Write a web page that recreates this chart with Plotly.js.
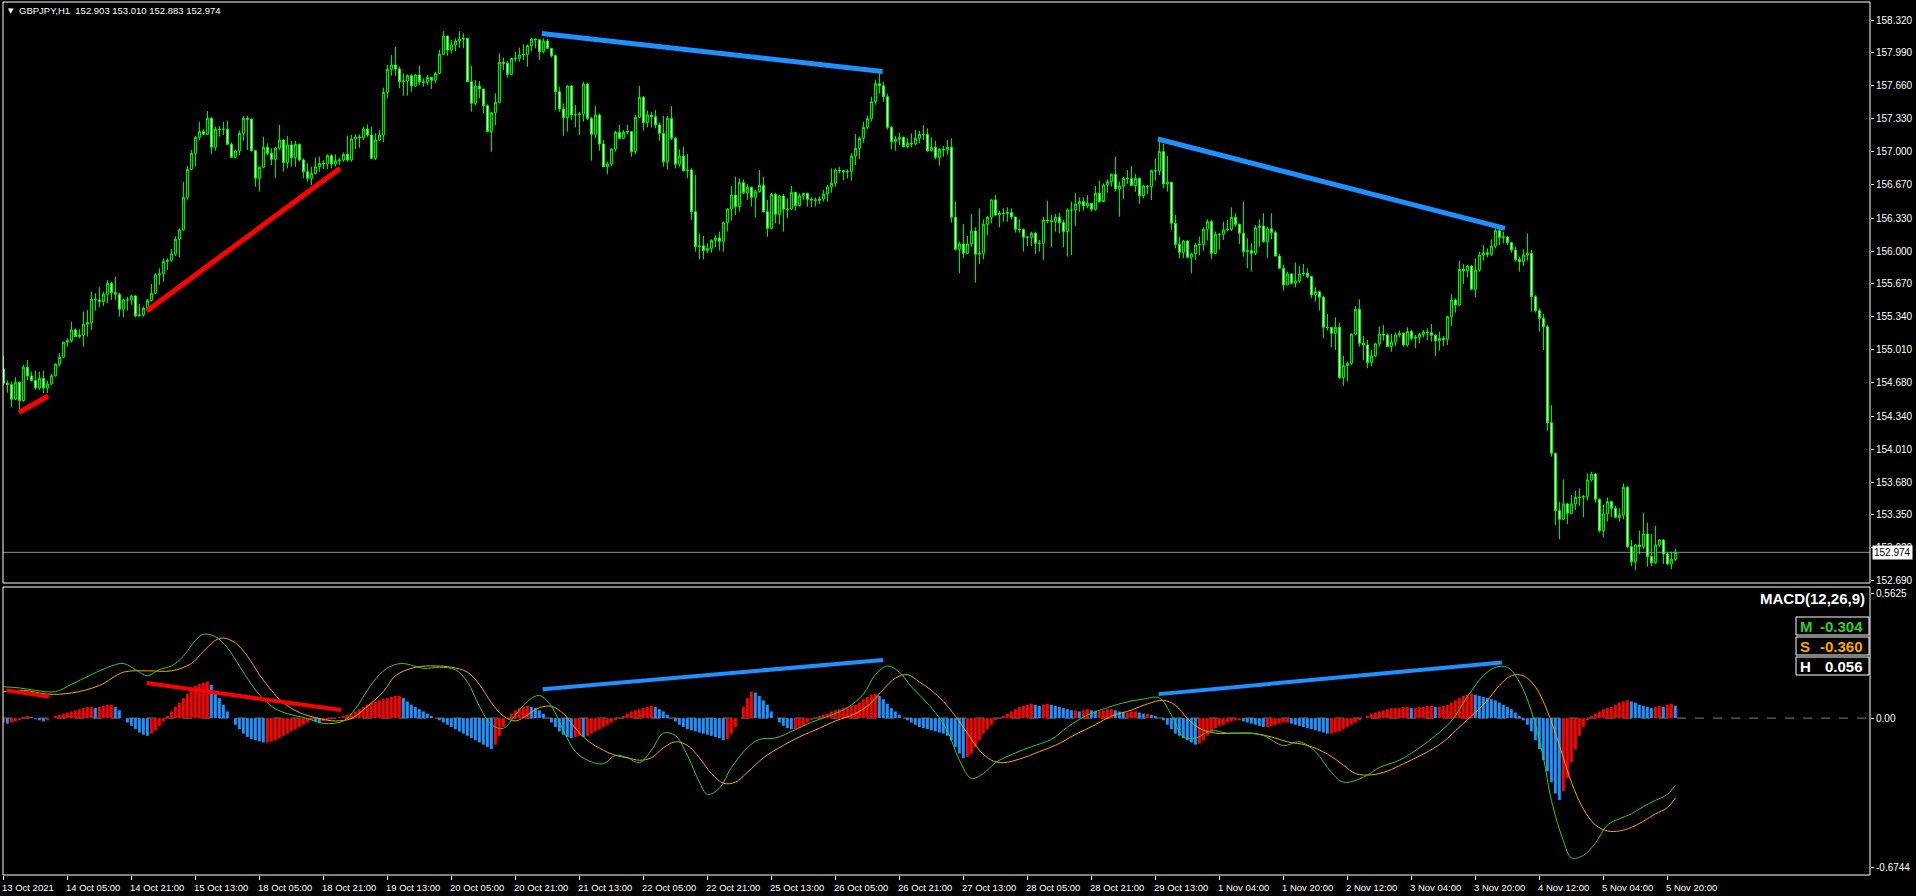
<!DOCTYPE html>
<html><head><meta charset="utf-8">
<script src="https://cdn.plot.ly/plotly-3.0.1.min.js"></script>
<style>html,body{margin:0;padding:0;background:#000;overflow:hidden}#chart{width:1916px;height:896px}</style>
</head><body><div id="chart"></div>
<script>
const titleText = "GBPJPY,H1\u00a0\u00a0152.903 153.010 152.883 152.974";
const lastPrice = 152.974;

const openP = [154.813,154.672,154.660,154.511,154.682,154.498,154.833,154.746,154.699,154.625,
154.722,154.625,154.665,154.746,154.863,154.933,155.084,155.100,155.208,155.141,
155.154,155.264,155.281,155.515,155.509,155.492,155.566,155.676,155.582,155.566,
155.415,155.509,155.509,155.549,155.351,155.358,155.425,155.502,155.576,155.760,
155.770,155.894,155.907,155.971,156.118,156.212,156.540,156.821,156.981,157.142,
157.199,157.172,157.333,157.042,157.222,157.222,157.222,157.072,156.941,157.005,
157.182,157.333,157.323,157.008,156.730,156.841,157.042,156.981,156.921,157.032,
157.115,156.888,157.065,156.938,157.071,156.914,156.797,156.730,156.780,156.847,
156.881,156.874,156.958,156.874,156.907,156.914,156.971,156.914,157.125,157.145,
157.138,157.225,157.165,156.931,157.115,157.165,157.593,157.824,157.868,157.828,
157.701,157.707,157.761,157.657,157.768,157.701,157.694,157.744,157.714,157.784,
157.975,158.159,158.019,158.069,158.109,158.129,158.136,157.701,157.483,157.657,
157.627,157.460,157.199,157.389,157.493,157.895,157.885,157.774,157.935,157.935,
157.968,157.975,158.062,158.129,158.122,158.002,158.109,158.035,157.962,157.600,
157.426,157.339,157.657,157.366,157.369,157.376,157.677,157.332,157.172,157.366,
157.075,156.847,156.874,157.025,157.192,157.132,157.192,157.199,156.998,157.343,
157.543,157.289,157.366,157.349,157.266,157.182,156.897,157.332,157.132,156.871,
156.954,156.807,156.814,156.395,156.044,156.051,156.004,156.027,156.107,156.131,
156.097,156.285,156.422,156.563,156.446,156.686,156.586,156.640,156.539,156.596,
156.660,156.395,156.228,156.569,156.369,156.553,156.419,156.422,156.589,156.456,
156.553,156.579,156.519,156.513,156.509,156.523,156.573,156.643,156.680,156.814,
156.807,156.794,156.797,156.955,157.031,157.132,157.242,157.330,157.500,157.680,
157.660,157.550,157.242,157.098,157.122,157.142,157.048,157.082,157.075,157.132,
157.172,157.172,157.008,157.042,156.941,157.021,157.015,157.042,156.339,156.017,
156.071,155.977,156.071,156.201,155.967,155.977,156.268,156.339,156.513,156.362,
156.379,156.376,156.386,156.342,156.218,156.215,156.138,156.138,156.178,156.078,
156.078,156.312,156.305,156.295,156.339,156.285,156.195,156.412,156.412,156.473,
156.496,156.453,156.479,156.419,156.580,156.496,156.663,156.697,156.770,156.623,
156.653,156.730,156.727,156.657,156.730,156.556,156.653,156.647,156.807,156.804,
156.998,156.673,156.690,156.278,156.068,155.987,156.101,155.937,155.971,156.061,
156.068,156.218,156.295,155.977,156.168,156.168,156.211,156.218,156.339,156.268,
156.178,155.994,156.004,155.977,156.235,156.252,156.094,156.222,156.185,155.950,
155.827,155.659,155.770,155.676,155.699,155.770,155.776,155.743,155.559,155.592,
155.535,155.234,155.231,155.174,155.234,154.729,154.849,154.873,155.164,155.415,
155.073,155.057,154.879,154.946,155.067,155.167,155.157,155.040,155.084,155.157,
155.174,155.057,155.191,155.123,155.133,155.163,155.187,155.180,155.153,155.100,
155.123,155.113,155.341,155.508,155.458,155.816,155.802,155.849,155.615,155.809,
155.960,155.983,155.966,156.050,156.204,156.137,156.141,156.084,156.010,155.916,
155.893,155.960,155.977,155.541,155.401,155.324,155.240,154.276,153.968,153.393,
153.306,153.460,153.366,153.460,153.526,153.526,153.533,153.700,153.761,153.506,
153.192,153.359,153.483,153.416,153.326,153.349,153.627,153.031,152.880,153.048,
153.031,153.158,152.931,152.870,153.048,153.098,152.957,152.857,152.903];

const highP = [154.947,154.699,154.689,154.732,154.689,154.856,154.906,154.789,154.799,154.789,
154.799,154.699,154.766,154.873,154.973,155.090,155.124,155.291,155.224,155.214,
155.392,155.408,155.592,155.576,155.636,155.592,155.710,155.693,155.743,155.582,
155.522,155.542,155.559,155.559,155.469,155.442,155.519,155.669,155.777,155.827,
155.927,155.927,156.021,156.145,156.228,156.697,156.854,157.015,157.156,157.299,
157.222,157.407,157.343,157.249,157.256,157.299,157.310,157.089,157.015,157.209,
157.356,157.356,157.333,157.015,156.848,157.149,157.082,157.032,157.048,157.266,
157.122,157.156,157.105,157.105,157.081,156.931,156.881,156.847,156.938,156.948,
156.914,156.971,156.971,156.971,156.938,156.991,157.158,157.165,157.172,157.172,
157.249,157.272,157.249,157.182,157.215,157.640,157.868,157.968,158.052,157.851,
157.784,157.774,157.774,157.774,157.861,157.734,157.768,157.734,157.801,158.019,
158.209,158.163,158.119,158.136,158.209,158.186,158.142,157.861,157.717,157.707,
157.627,157.473,157.399,157.583,157.985,157.942,157.908,157.942,158.002,158.042,
158.075,158.075,158.142,158.136,158.122,158.136,158.129,158.042,157.975,157.650,
157.483,157.667,157.667,157.466,157.399,157.701,157.691,157.349,157.456,157.383,
157.115,156.897,157.031,157.209,157.266,157.215,157.266,157.199,157.366,157.657,
157.557,157.409,157.399,157.416,157.289,157.356,157.356,157.456,157.148,157.021,
157.048,156.974,156.830,156.763,156.178,156.151,156.077,156.118,156.158,156.195,
156.295,156.429,156.653,156.747,156.730,156.720,156.673,156.646,156.613,156.814,
156.747,156.513,156.586,156.586,156.563,156.573,156.529,156.653,156.596,156.579,
156.586,156.586,156.539,156.539,156.546,156.613,156.663,156.830,156.830,156.847,
156.807,156.820,156.981,157.175,157.149,157.299,157.360,157.550,157.720,157.808,
157.700,157.580,157.256,157.155,157.189,157.149,157.132,157.182,157.216,157.209,
157.266,157.232,157.142,157.108,157.031,157.055,157.115,157.132,156.496,156.094,
156.272,156.151,156.372,156.238,156.429,156.319,156.352,156.519,156.563,156.406,
156.429,156.439,156.429,156.345,156.319,156.228,156.151,156.195,156.195,156.111,
156.345,156.506,156.362,156.372,156.386,156.312,156.429,156.496,156.580,156.539,
156.539,156.563,156.479,156.653,156.707,156.680,156.720,156.780,156.948,156.697,
156.747,156.814,156.854,156.774,156.740,156.663,156.663,156.814,156.931,157.109,
157.075,156.955,156.697,156.362,156.145,156.111,156.111,155.984,156.078,156.145,
156.238,156.319,156.312,156.195,156.178,156.295,156.312,156.439,156.379,156.278,
156.496,156.128,156.078,156.262,156.319,156.379,156.245,156.379,156.205,155.971,
155.860,155.793,155.776,155.884,155.850,155.870,155.827,155.750,155.636,155.602,
155.549,155.368,155.241,155.335,155.281,154.946,154.889,155.174,155.448,155.515,
155.147,155.107,155.007,155.080,155.241,155.258,155.174,155.167,155.181,155.201,
155.181,155.234,155.207,155.157,155.180,155.207,155.223,155.267,155.167,155.190,
155.147,155.347,155.568,155.525,155.903,155.869,155.859,155.859,155.926,155.993,
156.060,156.027,156.117,156.228,156.228,156.194,156.151,156.094,156.043,155.943,
156.017,156.177,156.010,155.558,155.424,155.367,155.257,154.454,153.975,153.483,
153.707,153.473,153.550,153.593,153.617,153.550,153.767,153.784,153.767,153.516,
153.450,153.526,153.493,153.440,153.416,153.667,153.640,153.098,153.058,153.192,
153.373,153.272,153.158,153.239,153.105,153.105,152.981,152.981,153.010];

const lowP = [154.655,154.578,154.431,154.505,154.404,154.488,154.706,154.689,154.605,154.605,
154.572,154.572,154.655,154.739,154.839,154.930,155.040,155.080,155.134,155.124,
155.040,155.141,155.208,155.402,155.435,155.449,155.475,155.509,155.509,155.341,
155.335,155.402,155.459,155.335,155.341,155.341,155.402,155.492,155.569,155.660,
155.693,155.810,155.894,155.951,155.937,156.205,156.513,156.814,156.848,157.115,
157.166,157.166,156.971,157.008,157.149,157.166,157.065,156.941,156.931,156.965,
157.109,157.015,156.998,156.647,156.597,156.831,156.965,156.864,156.730,157.015,
156.797,156.831,156.847,156.847,156.897,156.730,156.696,156.663,156.770,156.797,
156.824,156.824,156.830,156.847,156.864,156.897,156.897,156.897,157.025,157.038,
157.115,157.148,156.924,156.914,157.105,157.091,157.533,157.761,157.761,157.634,
157.560,157.560,157.600,157.650,157.667,157.650,157.667,157.627,157.684,157.774,
157.968,157.962,157.985,158.009,158.042,158.035,157.694,157.399,157.466,157.533,
157.383,157.192,156.998,157.265,157.483,157.818,157.741,157.768,157.901,157.901,
157.918,157.851,158.009,158.035,157.918,157.985,158.029,157.942,157.416,157.399,
157.158,157.199,157.316,157.242,157.165,157.299,157.316,156.907,157.132,157.008,
156.840,156.770,156.854,156.998,157.125,157.125,157.175,156.947,156.974,157.332,
157.209,157.242,157.242,157.232,157.108,156.847,156.820,157.115,156.830,156.847,
156.797,156.730,156.312,155.994,155.917,155.917,155.977,155.984,156.037,156.004,
155.994,156.195,156.305,156.362,156.395,156.573,156.513,156.446,156.338,156.586,
156.385,156.144,156.218,156.278,156.268,156.195,156.328,156.412,156.405,156.446,
156.513,156.446,156.439,156.446,156.472,156.496,156.496,156.586,156.646,156.780,
156.713,156.730,156.707,156.864,156.924,157.088,157.222,157.300,157.470,157.580,
157.500,157.220,157.021,157.008,157.065,157.042,157.031,157.042,157.065,157.082,
157.115,156.998,156.998,156.921,156.857,156.948,156.965,156.285,156.004,155.776,
155.927,155.971,156.044,155.683,155.870,155.917,156.161,156.278,156.352,156.238,
156.295,156.295,156.319,156.185,156.185,155.994,156.051,156.051,155.971,155.994,
155.910,156.278,156.037,156.195,156.178,156.037,155.944,155.960,156.252,156.396,
156.406,156.429,156.396,156.406,156.486,156.513,156.586,156.647,156.596,156.345,
156.519,156.673,156.657,156.596,156.473,156.529,156.573,156.513,156.707,156.764,
156.630,156.596,156.211,156.027,155.927,155.927,155.927,155.776,155.910,155.960,
156.004,156.105,155.917,155.971,156.017,156.111,156.195,156.201,156.245,156.071,
155.944,155.827,155.793,155.960,156.044,156.084,155.927,156.118,155.944,155.817,
155.602,155.659,155.669,155.636,155.676,155.750,155.726,155.525,155.492,155.402,
155.124,155.201,155.033,155.007,154.712,154.645,154.689,154.856,155.164,155.040,
154.906,154.823,154.846,154.933,155.040,155.100,155.033,154.990,155.047,155.134,
155.040,155.040,155.100,155.023,155.073,155.133,155.106,155.090,154.946,155.000,
155.046,155.056,155.247,155.381,155.448,155.669,155.736,155.608,155.535,155.792,
155.903,155.936,155.950,156.027,156.060,156.077,156.060,155.983,155.893,155.792,
155.849,155.903,155.391,155.381,155.190,155.006,154.196,153.935,153.249,153.105,
153.299,153.259,153.359,153.399,153.440,153.326,153.493,153.684,153.473,153.172,
153.125,153.282,153.326,153.316,153.282,153.306,153.014,152.837,152.797,152.957,
153.004,152.830,152.837,152.857,153.031,152.857,152.847,152.804,152.883];

const closeP = [154.672,154.660,154.511,154.682,154.498,154.833,154.746,154.699,154.625,154.722,
154.625,154.665,154.746,154.863,154.933,155.084,155.100,155.208,155.141,155.154,
155.264,155.281,155.515,155.509,155.492,155.566,155.676,155.582,155.566,155.415,
155.509,155.509,155.549,155.351,155.358,155.425,155.502,155.576,155.760,155.770,
155.894,155.907,155.971,156.118,156.212,156.540,156.821,156.981,157.142,157.199,
157.172,157.333,157.042,157.222,157.222,157.222,157.072,156.941,157.005,157.182,
157.333,157.323,157.008,156.730,156.841,157.042,156.981,156.921,157.032,157.115,
156.888,157.065,156.938,157.071,156.914,156.797,156.730,156.780,156.847,156.881,
156.874,156.958,156.874,156.907,156.914,156.971,156.914,157.125,157.145,157.138,
157.225,157.165,156.931,157.115,157.165,157.593,157.824,157.868,157.828,157.701,
157.707,157.761,157.657,157.768,157.701,157.694,157.744,157.714,157.784,157.975,
158.159,158.019,158.069,158.109,158.129,158.136,157.701,157.483,157.657,157.627,
157.460,157.199,157.389,157.493,157.895,157.885,157.774,157.935,157.935,157.968,
157.975,158.062,158.129,158.122,158.002,158.109,158.035,157.962,157.600,157.426,
157.339,157.657,157.366,157.369,157.376,157.677,157.332,157.172,157.366,157.075,
156.847,156.874,157.025,157.192,157.132,157.192,157.199,156.998,157.343,157.543,
157.289,157.366,157.349,157.266,157.182,156.897,157.332,157.132,156.871,156.954,
156.807,156.814,156.395,156.044,156.051,156.004,156.027,156.107,156.131,156.097,
156.285,156.422,156.563,156.446,156.686,156.586,156.640,156.539,156.596,156.660,
156.395,156.228,156.569,156.369,156.553,156.419,156.422,156.589,156.456,156.553,
156.579,156.519,156.513,156.509,156.523,156.573,156.643,156.680,156.814,156.807,
156.794,156.797,156.955,157.031,157.132,157.242,157.330,157.500,157.680,157.660,
157.550,157.242,157.098,157.122,157.142,157.048,157.082,157.075,157.132,157.172,
157.172,157.008,157.042,156.941,157.021,157.015,157.042,156.339,156.017,156.071,
155.977,156.071,156.201,155.967,155.977,156.268,156.339,156.513,156.362,156.379,
156.376,156.386,156.342,156.218,156.215,156.138,156.138,156.178,156.078,156.078,
156.312,156.305,156.295,156.339,156.285,156.195,156.412,156.412,156.473,156.496,
156.453,156.479,156.419,156.580,156.496,156.663,156.697,156.770,156.623,156.653,
156.730,156.727,156.657,156.730,156.556,156.653,156.647,156.807,156.804,156.998,
156.673,156.690,156.278,156.068,155.987,156.101,155.937,155.971,156.061,156.068,
156.218,156.295,155.977,156.168,156.168,156.211,156.218,156.339,156.268,156.178,
155.994,156.004,155.977,156.235,156.252,156.094,156.222,156.185,155.950,155.827,
155.659,155.770,155.676,155.699,155.770,155.776,155.743,155.559,155.592,155.535,
155.234,155.231,155.174,155.234,154.729,154.849,154.873,155.164,155.415,155.073,
155.057,154.879,154.946,155.067,155.167,155.157,155.040,155.084,155.157,155.174,
155.057,155.191,155.123,155.133,155.163,155.187,155.180,155.153,155.100,155.123,
155.113,155.341,155.508,155.458,155.816,155.802,155.849,155.615,155.809,155.960,
155.983,155.966,156.050,156.204,156.137,156.141,156.084,156.010,155.916,155.893,
155.960,155.977,155.541,155.401,155.324,155.240,154.276,153.968,153.393,153.306,
153.460,153.366,153.460,153.526,153.526,153.533,153.700,153.761,153.506,153.192,
153.359,153.483,153.416,153.326,153.349,153.627,153.031,152.880,153.048,153.031,
153.158,152.931,152.870,153.048,153.098,152.957,152.857,152.904,152.974];

const histVals = [
-0.02,-0.025,-0.02,-0.015,-0.01,0.005,0.01,0.005,-0.005,-0.01,-0.015,-0.01,0.0,0.01,
0.015,0.02,0.025,0.03,0.035,0.04,0.045,0.05,0.05,0.045,0.05,0.055,0.06,0.06,0.05,0.035,
0.0,-0.02,-0.035,-0.05,-0.065,-0.075,-0.08,-0.07,-0.055,-0.035,-0.015,
0.01,0.03,0.05,0.07,0.09,0.11,0.13,0.145,0.155,0.16,0.165,0.15,0.12,
0.09,0.06,0.03,0.0,-0.03,-0.05,
-0.07,-0.085,-0.095,-0.1,-0.105,-0.11,-0.11,-0.105,-0.1,-0.09,-0.08,-0.07,-0.06,-0.05,-0.04,-0.03,-0.02,
-0.01,-0.015,-0.02,-0.015,-0.01,-0.005,0.0,0.005,0.01,0.015,0.02,0.03,
0.04,0.05,0.06,0.07,0.075,0.08,0.085,0.09,0.095,0.1,0.1,0.09,
0.075,0.06,0.05,0.04,0.03,0.02,0.01,0.0,-0.01,-0.02,-0.03,-0.04,-0.05,-0.06,-0.07,
-0.08,-0.09,-0.1,-0.11,-0.12,-0.13,-0.14,-0.12,
-0.08,-0.04,0.0,0.02,0.035,0.045,0.05,0.055,0.05,0.045,0.035,
0.02,0.0,-0.02,-0.04,-0.06,-0.075,-0.085,-0.09,-0.085,
-0.08,-0.085,-0.08,-0.07,-0.06,-0.05,-0.04,-0.03,-0.02,
-0.01,0.0,0.01,0.02,0.03,0.035,0.04,0.045,0.05,0.055,0.05,0.04,0.03,0.015,
0.0,-0.015,-0.03,-0.04,-0.05,-0.055,-0.06,-0.065,-0.07,-0.075,-0.08,-0.085,-0.09,-0.1,-0.095,-0.07,-0.04,
0.0,0.05,0.09,0.12,0.115,0.1,0.08,0.06,
0.03,0.0,-0.02,-0.035,-0.045,-0.05,-0.05,-0.045,-0.035,-0.02,
-0.01,0.0,0.01,0.015,0.02,0.03,0.035,0.04,0.045,0.05,0.055,0.06,
0.07,0.085,0.095,0.105,0.11,0.1,0.085,0.065,
0.045,0.03,0.015,0.0,-0.01,-0.02,-0.03,-0.04,-0.045,-0.05,-0.055,-0.06,-0.065,-0.07,-0.08,-0.1,-0.13,-0.16,
-0.18,-0.175,-0.16,-0.13,-0.1,
-0.07,-0.05,-0.03,-0.01,0.0,0.01,0.02,0.03,0.04,
0.05,0.055,0.06,0.065,0.06,0.055,0.06,0.065,0.06,0.055,0.05,0.045,0.04,0.035,0.035,
0.03,0.035,0.04,0.035,0.03,0.03,0.035,0.04,0.04,0.035,0.03,0.025,0.025,0.03,0.03,0.025,0.02,0.02,0.015,0.01,
0.0,-0.01,-0.03,-0.05,-0.07,-0.08,-0.09,-0.1,-0.11,-0.12,-0.115,-0.1,-0.08,-0.06,
-0.045,-0.035,-0.03,-0.02,-0.015,-0.01,-0.01,-0.015,-0.02,-0.025,-0.03,-0.035,-0.04,-0.04,-0.035,-0.03,-0.025,-0.02,-0.02,-0.025,-0.03,
-0.035,-0.04,-0.045,-0.05,-0.055,-0.06,-0.065,-0.07,-0.07,-0.065,-0.06,-0.05,-0.04,-0.03,-0.02,
-0.01,0.0,0.01,0.02,0.025,0.03,0.035,0.04,0.045,0.045,0.045,0.05,0.05,0.045,0.045,0.05,0.05,0.055,0.055,0.05,0.05,0.055,
0.06,0.07,0.08,0.09,0.1,0.105,0.11,0.105,0.1,
0.095,0.09,0.085,0.08,0.07,0.06,0.05,0.04,0.025,0.01,-0.01,-0.03,
-0.06,-0.1,-0.14,-0.19,-0.24,-0.29,-0.34,-0.37,
-0.33,-0.27,-0.2,-0.14,-0.08,-0.04,-0.01,
0.01,0.02,0.03,0.04,0.045,0.05,0.06,0.07,0.075,0.08,0.075,0.07,0.06,0.055,0.05,0.045,0.05,0.055,0.05,0.06,0.065,0.056];

const macdLineIdx = [0,4,8,13,17,22,27,30,33,36,39,42,45,48,50,53,56,59,62,65,68,71,76,80,85,88,91,94,97,100,105,109,113,116,119,122,125,128,131,134,137,140,143,146,150,153,156,159,162,165,168,171,174,176,179,182,186,189,193,198,202,207,211,215,218,221,224,227,230,233,236,239,242,245,248,253,257,262,266,271,276,280,285,289,292,295,298,302,306,311,315,320,324,328,332,335,340,344,349,354,358,362,366,370,373,376,379,382,385,387,390,392,395,398,401,404,407,410,413,416,418];
const macdLine = [0.141,0.136,0.125,0.119,0.152,0.196,0.235,0.246,0.219,0.191,0.219,0.235,0.279,0.350,0.378,0.367,0.317,0.235,0.152,0.086,0.042,0.020,-0.002,-0.024,-0.013,0.042,0.125,0.196,0.235,0.246,0.224,0.229,0.218,0.163,0.053,-0.030,-0.046,0.014,0.075,0.102,0.053,-0.057,-0.151,-0.190,-0.206,-0.168,-0.179,-0.201,-0.145,-0.068,-0.079,-0.168,-0.289,-0.344,-0.316,-0.223,-0.134,-0.096,-0.090,-0.052,-0.019,0.014,0.047,0.108,0.196,0.235,0.207,0.141,0.086,0.025,-0.057,-0.190,-0.272,-0.250,-0.201,-0.157,-0.129,-0.096,-0.041,0.014,0.047,0.069,0.086,0.091,0.014,-0.085,-0.090,-0.057,-0.068,-0.068,-0.079,-0.124,-0.107,-0.151,-0.245,-0.289,-0.267,-0.223,-0.190,-0.134,-0.079,-0.013,0.097,0.191,0.229,0.229,0.163,0.031,-0.179,-0.371,-0.553,-0.630,-0.619,-0.564,-0.482,-0.454,-0.432,-0.399,-0.371,-0.344,-0.304];
const signalIdx = [0,5,11,17,24,30,36,42,47,50,53,55,58,61,64,67,70,74,79,83,87,91,95,98,103,108,112,116,119,122,125,128,131,134,137,140,143,146,150,153,156,159,162,165,168,171,174,177,180,183,186,190,195,199,204,208,213,217,220,223,226,229,232,235,238,241,244,247,250,254,259,263,268,273,277,282,286,290,293,296,299,303,308,312,317,321,326,331,335,338,342,346,350,355,360,363,367,371,374,377,380,383,386,389,392,395,398,401,404,407,410,413,416,418];
const signalLine = [0.119,0.125,0.108,0.113,0.147,0.207,0.213,0.213,0.246,0.301,0.350,0.361,0.339,0.279,0.196,0.125,0.069,0.025,-0.002,-0.013,-0.002,0.053,0.119,0.191,0.229,0.235,0.229,0.207,0.152,0.069,0.009,-0.013,0.014,0.047,0.053,0.020,-0.046,-0.101,-0.145,-0.168,-0.179,-0.190,-0.179,-0.134,-0.107,-0.123,-0.179,-0.250,-0.294,-0.289,-0.245,-0.179,-0.123,-0.085,-0.046,-0.013,0.020,0.069,0.130,0.180,0.196,0.163,0.125,0.075,0.009,-0.068,-0.145,-0.190,-0.201,-0.185,-0.151,-0.123,-0.074,-0.030,0.009,0.036,0.064,0.080,0.058,-0.002,-0.046,-0.068,-0.068,-0.068,-0.085,-0.107,-0.123,-0.162,-0.212,-0.250,-0.256,-0.239,-0.206,-0.162,-0.107,-0.057,0.009,0.080,0.147,0.191,0.191,0.141,0.031,-0.123,-0.289,-0.410,-0.482,-0.509,-0.509,-0.493,-0.465,-0.432,-0.404,-0.360];

const tickIdx = [0,16,32,48,64,80,96,112,128,144,160,176,192,208,224,240,256,272,288,304,320,336,352,368,384,400,416];
const tickText = ["13 Oct 2021","14 Oct 05:00","14 Oct 21:00","15 Oct 13:00","18 Oct 05:00","18 Oct 21:00","19 Oct 13:00","20 Oct 05:00","20 Oct 21:00","21 Oct 13:00","22 Oct 05:00","22 Oct 21:00","25 Oct 13:00","26 Oct 05:00","26 Oct 21:00","27 Oct 13:00","28 Oct 05:00","28 Oct 21:00","29 Oct 13:00","1 Nov 04:00","1 Nov 20:00","2 Nov 12:00","3 Nov 04:00","3 Nov 20:00","4 Nov 12:00","5 Nov 04:00","5 Nov 20:00"];
const priceTicks = [158.320,157.990,157.660,157.330,157.000,156.670,156.330,156.000,155.670,155.340,155.010,154.680,154.340,154.010,153.680,153.350,153.020,152.690];
const macdTicks = [0.5625,0,-0.6744];
const macdTickText = ["0.5625","0.00","-0.6744"];

// trend lines: [startIndex, startValue, endIndex, endValue]
const priceRedLines = [[3.9,154.380,11.2,154.544],[35.8,155.398,84.15,156.831]];
const priceBlueLines = [[134.6,158.184,219.8,157.803],[288.6,157.125,375.4,156.228]];
const macdRedLines = [[0.7,0.125,11.4,0.097],[35.8,0.158,84.4,0.036]];
const macdBlueLines = [[134.8,0.130,219.9,0.262],[288.8,0.108,374.6,0.251]];

const macdLabel = "MACD(12,26,9)";
const macdBoxes = [["M","-0.304","#32CD32"],["S","-0.360","#FFA500"],["H","0.056","#FFFFFF"]];

// ---------- drawing ----------
const W=1916,H=896,ML=3,MR=46,MT=2,MB=21;
const PW=W-ML-MR, PH=H-MT-MB;
const px=x=>(x-ML)/PW, py=y=>(H-MB-y)/PH;
const idx = closeP.map((_,i)=>i);
const histColors = histVals.map((v,i)=> (i===0 || v>=histVals[i-1]) ? '#FF0000' : '#1E90FF');
const FONT = 'Liberation Sans, Arial, sans-serif';

const traces = [
 {type:'candlestick', x:idx, open:openP, high:highP, low:lowP, close:closeP, xaxis:'x', yaxis:'y',
  increasing:{line:{color:'#00FF00',width:1}, fillcolor:'#000000'},
  decreasing:{line:{color:'#00FF00',width:1}, fillcolor:'#FFFFFF'},
  whiskerwidth:0, hoverinfo:'skip'},
 {type:'bar', x:idx, y:histVals, width:0.72, marker:{color:histColors, line:{width:0}}, xaxis:'x', yaxis:'y2', hoverinfo:'skip'},
 {type:'scatter', mode:'lines', x:signalIdx, y:signalLine, line:{color:'#FFA500', width:1, shape:'spline', smoothing:1}, xaxis:'x', yaxis:'y2', hoverinfo:'skip'},
 {type:'scatter', mode:'lines', x:macdLineIdx, y:macdLine, line:{color:'#32CD32', width:1, shape:'spline', smoothing:1}, xaxis:'x', yaxis:'y2', hoverinfo:'skip'}
];

const shapes = [];
const pDom=[py(583),1], mDom=[0,py(587)];
shapes.push({type:'rect', xref:'paper', yref:'paper', x0:0, x1:1, y0:pDom[0], y1:1, line:{color:'#FFFFFF', width:1}, layer:'above'});
shapes.push({type:'rect', xref:'paper', yref:'paper', x0:0, x1:1, y0:0, y1:mDom[1], line:{color:'#FFFFFF', width:1}, layer:'above'});
shapes.push({type:'line', xref:'paper', yref:'y2', x0:0, x1:1, y0:0, y1:0, line:{color:'#7F7F7F', width:1, dash:'dash'}, layer:'below'});
shapes.push({type:'line', xref:'paper', yref:'y', x0:0, x1:1, y0:lastPrice, y1:lastPrice, line:{color:'#8A9099', width:1}, layer:'below'});
priceRedLines.forEach(l=>shapes.push({type:'line', xref:'x', yref:'y', x0:l[0], y0:l[1], x1:l[2], y1:l[3], line:{color:'#FF0000', width:5}}));
priceBlueLines.forEach(l=>shapes.push({type:'line', xref:'x', yref:'y', x0:l[0], y0:l[1], x1:l[2], y1:l[3], line:{color:'#1E90FF', width:5}}));
macdRedLines.forEach(l=>shapes.push({type:'line', xref:'x', yref:'y2', x0:l[0], y0:l[1], x1:l[2], y1:l[3], line:{color:'#FF0000', width:4}}));
macdBlueLines.forEach(l=>shapes.push({type:'line', xref:'x', yref:'y2', x0:l[0], y0:l[1], x1:l[2], y1:l[3], line:{color:'#1E90FF', width:4}}));
macdBoxes.forEach((b,k)=>{
  const top=617+k*20;
  shapes.push({type:'rect', xref:'paper', yref:'paper', x0:px(1796), x1:px(1869), y0:py(top+18), y1:py(top), line:{color:'#FFFFFF', width:1}, fillcolor:'#000000', layer:'above'});
});

const ann = [];
ann.push({xref:'paper', yref:'paper', x:px(6), y:py(11), xanchor:'left', yanchor:'middle', text:'\u25BC', showarrow:false, font:{family:'DejaVu Sans', size:7, color:'#FFFFFF'}});
ann.push({xref:'paper', yref:'paper', x:px(17), y:py(11), xanchor:'left', yanchor:'middle', text:titleText, showarrow:false, font:{family:FONT, size:9.5, color:'#FFFFFF'}});
tickIdx.forEach((t,k)=>ann.push({xref:'x', yref:'paper', x:t, y:py(887), xanchor:'left', yanchor:'middle', xshift:-3, text:tickText[k], showarrow:false, font:{family:FONT, size:9.5, color:'#FFFFFF'}}));
ann.push({xref:'paper', yref:'y', x:1, y:lastPrice, xanchor:'left', yanchor:'middle', xshift:2, text:'152.974', showarrow:false, bgcolor:'#FFFFFF', borderpad:1, font:{family:FONT, size:10, color:'#000000'}});
ann.push({xref:'paper', yref:'paper', x:px(1867), y:py(598), xanchor:'right', yanchor:'middle', text:'<b>'+macdLabel+'</b>', showarrow:false, font:{family:FONT, size:15, color:'#FFFFFF'}});
macdBoxes.forEach((b,k)=>{
  const cy=617+k*20+9.5;
  ann.push({xref:'paper', yref:'paper', x:px(1798), y:py(cy), xanchor:'left', yanchor:'middle', text:'<b>'+b[0]+'</b>', showarrow:false, font:{family:FONT, size:15, color:b[2]}});
  ann.push({xref:'paper', yref:'paper', x:px(1865), y:py(cy), xanchor:'right', yanchor:'middle', text:'<b>'+b[1]+'</b>', showarrow:false, font:{family:FONT, size:15, color:b[2]}});
});

const layout = {
  width:W, height:H, paper_bgcolor:'#000000', plot_bgcolor:'#000000',
  margin:{l:ML, r:MR, t:MT, b:MB, pad:0}, showlegend:false, dragmode:false, hovermode:false,
  xaxis:{range:[-0.1,466.65], anchor:'y2', showgrid:false, zeroline:false, showline:false, showticklabels:false,
         ticks:'outside', ticklen:4, tickcolor:'#FFFFFF', tickwidth:1, tickmode:'array', tickvals:tickIdx,
         rangeslider:{visible:false}, fixedrange:true},
  yaxis:{domain:pDom, range:[152.666,158.501], side:'right', anchor:'x', showgrid:false, zeroline:false, showline:false,
         tickmode:'array', tickvals:priceTicks, ticktext:priceTicks.map(v=>v.toFixed(3)), ticks:'outside', ticklen:3, tickcolor:'#FFFFFF',
         tickfont:{family:FONT, size:10, color:'#FFFFFF'}, fixedrange:true},
  yaxis2:{domain:mDom, range:[-0.7075,0.591], side:'right', anchor:'x', showgrid:false, zeroline:false, showline:false,
         tickmode:'array', tickvals:macdTicks, ticktext:macdTickText, ticks:'outside', ticklen:3, tickcolor:'#FFFFFF',
         tickfont:{family:FONT, size:10, color:'#FFFFFF'}, fixedrange:true},
  shapes:shapes, annotations:ann
};
Plotly.newPlot('chart', traces, layout, {staticPlot:true, displayModeBar:false});
</script></body></html>
